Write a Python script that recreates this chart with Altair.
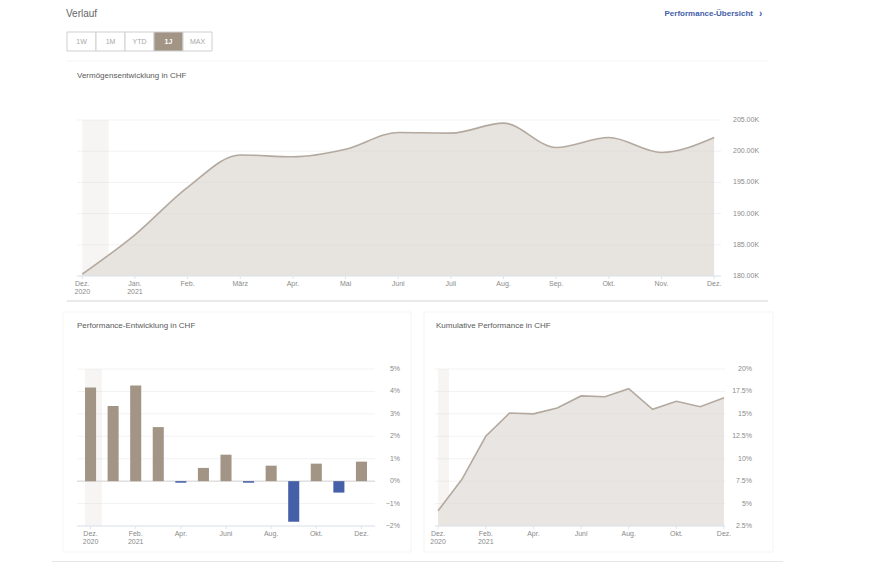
import altair as alt
import pandas as pd

# ---------------- data ----------------
months = ["Dez.", "Jan.", "Feb.", "März", "Apr.", "Mai", "Juni", "Juli", "Aug.", "Sep.", "Okt.", "Nov.", "Dez."]
years_top = {0: "2020", 1: "2021"}
years_bottom = {0: "2020", 2: "2021"}
vermoegen = [180300, 186600, 194200, 199400, 199100, 200300, 203000, 202900, 204500, 200600, 202200, 199800, 202200]
performance = [4.18, 3.35, 4.26, 2.41, -0.07, 0.59, 1.18, -0.07, 0.69, -1.81, 0.78, -0.51, 0.87]
kumulativ = [4.2, 7.7, 12.5, 15.1, 15.0, 15.65, 17.0, 16.9, 17.8, 15.5, 16.4, 15.8, 16.8]
ticks_vermoegen = [180000, 185000, 190000, 195000, 200000, 205000]
ticks_performance = [-2, -1, 0, 1, 2, 3, 4, 5]
ticks_kumulativ = [2.5, 5, 7.5, 10, 12.5, 15, 17.5, 20]
buttons = ["1W", "1M", "YTD", "1J", "MAX"]
active_button = "1J"
header_title = "Verlauf"
link_text = "Performance-Übersicht"
title_top = "Vermögensentwicklung in CHF"
title_left = "Performance-Entwicklung in CHF"
title_right = "Kumulative Performance in CHF"

# ---------------- style / layout ----------------
FONT = "Liberation Sans"
W, H = 858, 554


def px(v):
    return v - 8


TAUPE = "#a29585"
BLUE = "#4560a8"
AREA = "#e7e3df"
LINE = "#b3a99f"
BAND = "#f6f5f3"
GRID = "#d9d9d9"
LAB = "#8a8a8a"
DOM = "#dde3ee"

idx = list(range(len(months)))
df_top = pd.DataFrame({"idx": idx, "v": vermoegen})
df_perf = pd.DataFrame({"idx": idx, "v": performance})
df_kum = pd.DataFrame({"idx": idx, "v": kumulativ})
one = pd.DataFrame({"k": [0]})


def month_labels(step, years):
    rows = []
    for i in range(0, len(months), step):
        lab = months[i] + ("\n" + years[i] if i in years else "")
        rows.append({"idx": i, "lab": lab})
    return pd.DataFrame(rows)


def pct(v):
    s = f"{v:g}%"
    return s.replace("-", "\u2212")


def text_layer(txt, x, y, size=8, color="#5a5a5a", align="left", weight="normal"):
    return alt.Chart(pd.DataFrame({"t": [txt]})).mark_text(
        align=align, baseline="middle", fontSize=size, color=color, font=FONT, fontWeight=weight
    ).encode(x=alt.value(px(x)), y=alt.value(px(y)), text="t:N")


def hline(x0, x1, y, color):
    return alt.Chart(one).mark_rule(color=color, strokeWidth=1).encode(
        x=alt.value(px(x0)), x2=alt.value(px(x1)), y=alt.value(px(y)))


def card(x0, x1, y0, y1):
    return alt.Chart(one).mark_rect(filled=False, stroke="#f5f5f5", strokeWidth=1).encode(
        x=alt.value(px(x0)), x2=alt.value(px(x1)), y=alt.value(px(y0)), y2=alt.value(px(y1)))


def x_axis_layers(xs, ys, xmin, xmax, ymin, step, years, y_base):
    labs = month_labels(step, years)
    domain = alt.Chart(one).mark_rule(color=DOM, strokeWidth=1).encode(
        x=alt.XDatum(xmin, scale=xs), x2=alt.X2Datum(xmax), y=alt.YDatum(ymin, scale=ys))
    ticks = alt.Chart(labs).mark_rule(color=DOM, strokeWidth=1).encode(
        x=alt.X("idx:Q", scale=xs), y=alt.value(px(y_base)), y2=alt.value(px(y_base + 3)))
    text = alt.Chart(labs).mark_text(
        baseline="top", align="center", lineBreak="\n", lineHeight=8, fontSize=7,
        color=LAB, font=FONT).encode(
        x=alt.X("idx:Q", scale=xs), y=alt.value(px(y_base + 3.5)), text="lab:N")
    return [domain, ticks, text]


def y_labels(ys, ticks, fmt, x, align):
    df = pd.DataFrame({"v": ticks, "lab": [fmt(t) for t in ticks]})
    return alt.Chart(df).mark_text(align=align, baseline="middle", fontSize=7, color=LAB,
                                   font=FONT).encode(
        y=alt.Y("v:Q", scale=ys), x=alt.value(px(x)), text="lab:N")


def grid(ys, xs, ticks, xmin, xmax):
    return alt.Chart(pd.DataFrame({"v": ticks})).mark_rule(
        color=GRID, strokeWidth=1, opacity=0.35).encode(
        y=alt.Y("v:Q", scale=ys), x=alt.XDatum(xmin, scale=xs), x2=alt.X2Datum(xmax))


# ---------------- header ----------------
bx = alt.Scale(domain=buttons, range=[px(67), px(212)], paddingInner=0, paddingOuter=0)
df_btn = pd.DataFrame({"b": buttons})
btn_rect = alt.Chart(df_btn).mark_rect(stroke="#cfcfcf", strokeWidth=1).encode(
    x=alt.X("b:N", scale=bx, axis=None, sort=buttons),
    y=alt.value(px(32)), y2=alt.value(px(51)),
    fill=alt.condition(alt.datum.b == active_button, alt.value(TAUPE), alt.value("white")),
)
btn_txt = alt.Chart(df_btn).transform_filter(alt.datum.b != active_button).mark_text(
    fontSize=7, color="#a8a8a8", font=FONT, baseline="middle").encode(
    x=alt.X("b:N", scale=bx, axis=None, sort=buttons), y=alt.value(px(41.5)), text="b:N")
btn_txt_act = alt.Chart(df_btn).transform_filter(alt.datum.b == active_button).mark_text(
    fontSize=7, color="white", font=FONT, baseline="middle", fontWeight="bold").encode(
    x=alt.X("b:N", scale=bx, axis=None, sort=buttons), y=alt.value(px(41.5)), text="b:N")
buttons_layer = alt.layer(btn_rect, btn_txt, btn_txt_act)

header = alt.layer(
    text_layer(header_title, 66, 13.5, size=10, color="#666666"),
    text_layer(link_text, 753, 14, size=8, color="#4560a8", align="right", weight="bold"),
    text_layer("›", 759, 13.5, size=10, color="#4560a8", weight="bold"),
    text_layer(title_top, 77, 76),
    text_layer(title_left, 77, 326),
    text_layer(title_right, 436, 326),
    hline(66, 768, 61, "#f4f4f4"),
    hline(67, 768, 301, "#d4d4d4"),
    hline(52, 783, 562, "#cdcdcd"),
    card(63, 411, 312, 552),
    card(424, 773, 312, 552),
)

# ---------------- top panel ----------------
tx = alt.Scale(domain=[-0.1, 12.13], range=[px(77), px(721)], nice=False, zero=False)
ty = alt.Scale(domain=[180000, 205000], range=[px(276), px(120)], nice=False, zero=False)

top_band = alt.Chart(one).mark_rect(color=BAND).encode(
    x=alt.XDatum(0, scale=tx), x2=alt.X2Datum(0.5),
    y=alt.YDatum(180000, scale=ty), y2=alt.Y2Datum(205000))
top_area = alt.Chart(df_top).mark_area(color=AREA, interpolate="monotone").encode(
    x=alt.X("idx:Q", scale=tx), y=alt.Y("v:Q", scale=ty), y2=alt.Y2Datum(180000))
top_line = alt.Chart(df_top).mark_line(color=LINE, strokeWidth=1.6, interpolate="monotone").encode(
    x=alt.X("idx:Q", scale=tx), y=alt.Y("v:Q", scale=ty))
top_panel = alt.layer(
    top_band, top_area, grid(ty, tx, ticks_vermoegen, -0.1, 12.13), top_line,
    *x_axis_layers(tx, ty, -0.1, 12.13, 180000, 1, years_top, 276),
    y_labels(ty, ticks_vermoegen, lambda v: f"{v / 1000:.2f}K", 733, "left"),
)

# ---------------- bottom-left panel ----------------
lx = alt.Scale(domain=[-0.6, 12.6], range=[px(77), px(375)], nice=False, zero=False)
ly = alt.Scale(domain=[-2, 5], range=[px(526), px(369)], nice=False, zero=False)

left_band = alt.Chart(one).mark_rect(color=BAND).encode(
    x=alt.XDatum(-0.24, scale=lx), x2=alt.X2Datum(0.5),
    y=alt.YDatum(-2, scale=ly), y2=alt.Y2Datum(5))
left_zero = alt.Chart(one).mark_rule(color="#d6d6d6", strokeWidth=1).encode(
    y=alt.YDatum(0, scale=ly), x=alt.XDatum(-0.6, scale=lx), x2=alt.X2Datum(12.6))
left_bars = alt.Chart(df_perf).transform_calculate(
    x0="datum.idx - 0.245", x1="datum.idx + 0.245").mark_bar().encode(
    x=alt.X("x0:Q", scale=lx), x2="x1:Q",
    y=alt.Y("v:Q", scale=ly), y2=alt.Y2Datum(0),
    color=alt.condition("datum.v < 0", alt.value(BLUE), alt.value(TAUPE)))
left_panel = alt.layer(
    left_band, grid(ly, lx, ticks_performance, -0.6, 12.6), left_zero, left_bars,
    *x_axis_layers(lx, ly, -0.6, 12.6, -2, 2, years_bottom, 526),
    y_labels(ly, ticks_performance, pct, 400, "right"),
)

# ---------------- bottom-right panel ----------------
rx = alt.Scale(domain=[-0.13, 12.04], range=[px(435), px(725)], nice=False, zero=False)
ry = alt.Scale(domain=[2.5, 20], range=[px(526), px(369)], nice=False, zero=False)

right_band = alt.Chart(one).mark_rect(color=BAND).encode(
    x=alt.XDatum(0, scale=rx), x2=alt.X2Datum(0.46),
    y=alt.YDatum(2.5, scale=ry), y2=alt.Y2Datum(20))
right_area = alt.Chart(df_kum).mark_area(color=AREA, opacity=0.92).encode(
    x=alt.X("idx:Q", scale=rx), y=alt.Y("v:Q", scale=ry), y2=alt.Y2Datum(2.5))
right_line = alt.Chart(df_kum).mark_line(color=LINE, strokeWidth=1.6).encode(
    x=alt.X("idx:Q", scale=rx), y=alt.Y("v:Q", scale=ry))
right_panel = alt.layer(
    right_band, right_area, grid(ry, rx, ticks_kumulativ, -0.13, 12.04), right_line,
    *x_axis_layers(rx, ry, -0.13, 12.04, 2.5, 2, years_bottom, 526),
    y_labels(ry, ticks_kumulativ, pct, 752, "right"),
)

chart = alt.layer(header, buttons_layer, top_panel, left_panel, right_panel).resolve_scale(
    x="independent", y="independent"
).properties(
    width=W, height=H, padding=0, autosize=alt.AutoSizeParams(type="none")
).configure(
    font=FONT, view=alt.ViewConfig(stroke=None),
    axis=alt.AxisConfig(disable=True),
)

chart.save("out.html", embed_options={"renderer": "svg", "actions": False})
